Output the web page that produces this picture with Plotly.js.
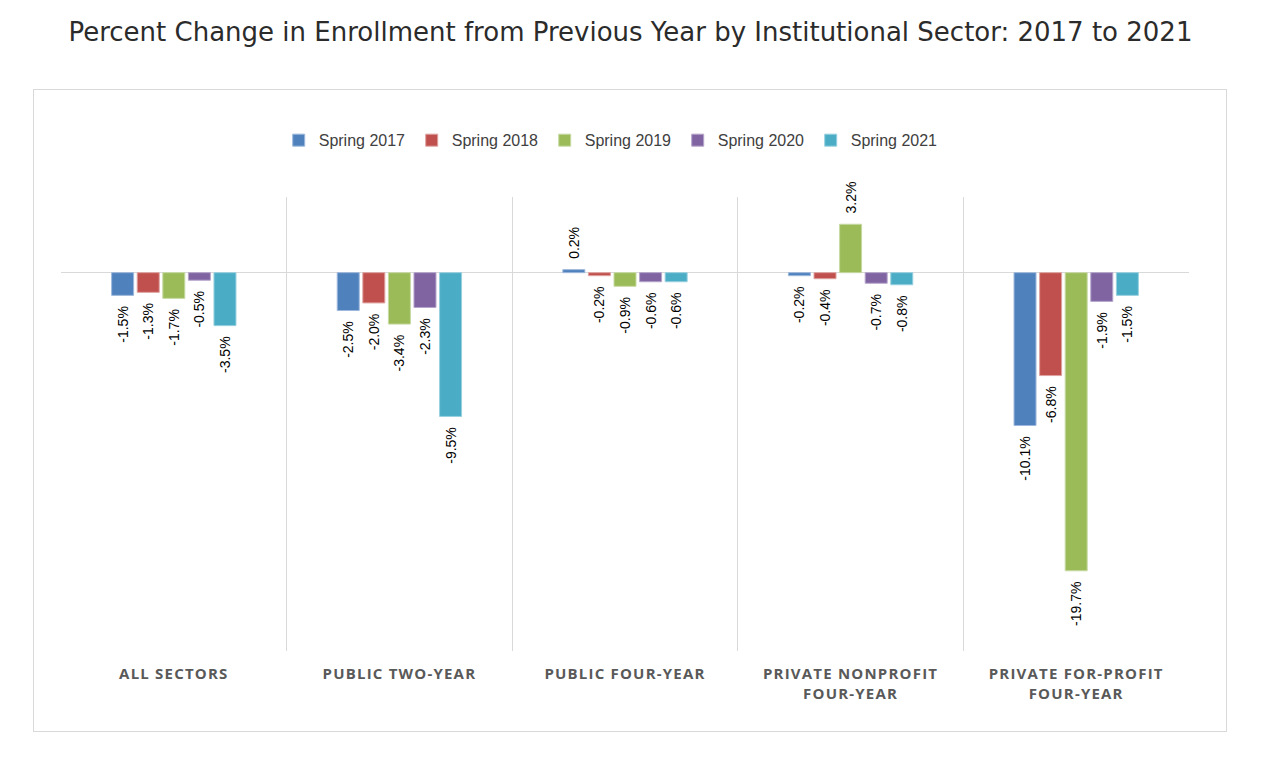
<!DOCTYPE html>
<html>
<head>
<meta charset="utf-8">
<script src="https://cdn.plot.ly/plotly-3.0.1.min.js"></script>
<style>
  html, body { margin: 0; padding: 0; background: #fff; }
  #wrap { position: relative; width: 1266px; height: 760px; }
  #box { position: absolute; left: 33px; top: 89px; width: 1194px; height: 643px; border: 1px solid #d9d9d9; box-sizing: border-box; }
  #chart { position: absolute; left: 0; top: 0; width: 1266px; height: 760px; }
  .xtick text { letter-spacing: 1.2px; }
</style>
</head>
<body>
<div id="wrap">
  <div id="box"></div>
  <div id="chart"></div>
</div>
<script>
const categories = ["ALL SECTORS", "PUBLIC TWO-YEAR", "PUBLIC FOUR-YEAR", "PRIVATE NONPROFIT<br>FOUR-YEAR", "PRIVATE FOR-PROFIT<br>FOUR-YEAR"];
const seriesNames = ["Spring 2017", "Spring 2018", "Spring 2019", "Spring 2020", "Spring 2021"];
const spring2017 = [-1.5, -2.5, 0.2, -0.2, -10.1];
const spring2018 = [-1.3, -2.0, -0.2, -0.4, -6.8];
const spring2019 = [-1.7, -3.4, -0.9, 3.2, -19.7];
const spring2020 = [-0.5, -2.3, -0.6, -0.7, -1.9];
const spring2021 = [-3.5, -9.5, -0.6, -0.8, -1.5];
const seriesValues = [spring2017, spring2018, spring2019, spring2020, spring2021];
const colors = ["#4F81BD", "#C0504D", "#9BBB59", "#8064A2", "#4BACC6"];
const edgeColors = ["#9DB8DC", "#DEA3A1", "#C7DAA3", "#B5A5CB", "#98D0DF"];

const traces = seriesValues.map((vals, i) => ({
  type: "bar",
  name: seriesNames[i],
  x: categories,
  y: vals,
  marker: { color: colors[i], line: { color: edgeColors[i], width: 1 } },
  texttemplate: "\u00A0\u00A0%{y:.1f}%\u00A0\u00A0",
  textposition: "outside",
  textangle: -90,
  constraintext: "none",
  cliponaxis: false,
  textfont: { family: "Liberation Sans, Arial, sans-serif", size: 14, color: "#000" },
  hoverinfo: "skip"
}));

const layout = {
  width: 1266,
  height: 760,
  paper_bgcolor: "rgba(0,0,0,0)",
  plot_bgcolor: "rgba(0,0,0,0)",
  margin: { l: 61, r: 77, t: 197, b: 109 },
  title: {
    text: "Percent Change in Enrollment from Previous Year by Institutional Sector: 2017 to 2021",
    font: { family: "DejaVu Sans, sans-serif", size: 26, color: "#2b2b2b" },
    x: 0.498, xref: "container", xanchor: "center",
    y: 0.958, yref: "container", yanchor: "middle"
  },
  barmode: "group",
  bargap: 0.433,
  bargroupgap: 0.14,
  showlegend: true,
  legend: {
    orientation: "h",
    x: 0.193, xanchor: "left",
    y: 1.125, yanchor: "middle",
    font: { family: "Liberation Sans, Arial, sans-serif", size: 16, color: "#404040" },
    itemwidth: 30,
    entrywidth: 88,
    entrywidthmode: "pixels",
    traceorder: "normal"
  },
  xaxis: {
    type: "category",
    tickson: "boundaries",
    showgrid: true,
    gridcolor: "#d9d9d9",
    gridwidth: 1,
    ticks: "",
    showline: false,
    zeroline: false,
    tickfont: { family: "Open Sans, sans-serif", size: 15, color: "#595959", weight: "bold" },
    ticklabelstandoff: 12,
    fixedrange: true
  },
  yaxis: {
    range: [-25, 5],
    showgrid: false,
    showticklabels: false,
    ticks: "",
    zeroline: true,
    zerolinecolor: "#d9d9d9",
    zerolinewidth: 1,
    showline: false,
    fixedrange: true
  }
};

Plotly.newPlot("chart", traces, layout, { displayModeBar: false, staticPlot: true });
</script>
</body>
</html>
